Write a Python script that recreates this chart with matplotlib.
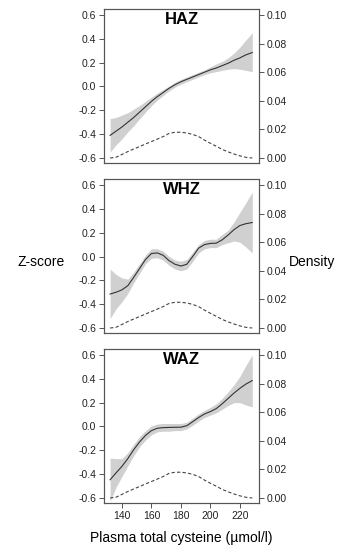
import matplotlib
matplotlib.use('Agg')
import matplotlib.pyplot as plt
import numpy as np

plt.rcParams['font.family'] = ['Liberation Sans', 'DejaVu Sans']
plt.rcParams['axes.unicode_minus'] = False

# plasma total cysteine (umol/l)
cysteine = [132, 136, 140, 144, 148, 152, 156, 160, 164, 168, 172, 176, 180,
            184, 188, 192, 196, 200, 204, 208, 212, 216, 220, 224, 228.4]

# HAZ fit and confidence band
haz = [-0.41, -0.375, -0.34, -0.30, -0.26, -0.215, -0.17, -0.125, -0.085, -0.05, -0.015, 0.015, 0.04,
       0.06, 0.08, 0.10, 0.12, 0.14, 0.155, 0.175, 0.195, 0.22, 0.24, 0.265, 0.285]
haz_hi = [-0.27, -0.26, -0.24, -0.22, -0.19, -0.16, -0.125, -0.09, -0.055, -0.025, 0.005, 0.035, 0.06,
          0.08, 0.10, 0.12, 0.14, 0.165, 0.19, 0.21, 0.24, 0.28, 0.33, 0.39, 0.45]
haz_lo = [-0.55, -0.49, -0.44, -0.38, -0.33, -0.27, -0.215, -0.16, -0.115, -0.075, -0.037, -0.005, 0.02,
          0.04, 0.06, 0.08, 0.10, 0.115, 0.125, 0.135, 0.145, 0.15, 0.145, 0.135, 0.125]

# WHZ fit and confidence band
whz = [-0.315, -0.30, -0.28, -0.245, -0.175, -0.10, -0.025, 0.025, 0.03, 0.01, -0.035, -0.065, -0.08,
       -0.065, 0.0, 0.07, 0.10, 0.11, 0.112, 0.14, 0.18, 0.225, 0.26, 0.275, 0.285]
whz_hi = [-0.105, -0.15, -0.18, -0.19, -0.13, -0.06, 0.01, 0.065, 0.065, 0.045, 0.0, -0.03, -0.04,
          -0.025, 0.035, 0.10, 0.135, 0.145, 0.145, 0.185, 0.22, 0.29, 0.37, 0.45, 0.54]
whz_lo = [-0.52, -0.44, -0.38, -0.31, -0.22, -0.14, -0.06, -0.015, -0.01, -0.03, -0.075, -0.105, -0.12,
          -0.105, -0.04, 0.03, 0.065, 0.075, 0.075, 0.10, 0.115, 0.13, 0.12, 0.08, 0.03]

# WAZ fit and confidence band
waz = [-0.447, -0.39, -0.335, -0.27, -0.195, -0.13, -0.075, -0.035, -0.015, -0.01, -0.008, -0.007, -0.006,
       0.006, 0.04, 0.075, 0.105, 0.125, 0.15, 0.19, 0.235, 0.28, 0.32, 0.355, 0.385]
waz_hi = [-0.265, -0.27, -0.27, -0.22, -0.15, -0.085, -0.035, 0.005, 0.02, 0.025, 0.025, 0.025, 0.025,
          0.035, 0.07, 0.105, 0.135, 0.16, 0.19, 0.235, 0.29, 0.35, 0.42, 0.51, 0.60]
waz_lo = [-0.63, -0.51, -0.42, -0.33, -0.245, -0.17, -0.115, -0.07, -0.045, -0.04, -0.04, -0.035, -0.035,
          -0.02, 0.01, 0.045, 0.075, 0.095, 0.115, 0.145, 0.175, 0.20, 0.20, 0.18, 0.165]

# density of cysteine values (same for all panels)
density = [0.0, 0.0005, 0.0025, 0.0045, 0.0063, 0.008, 0.0098, 0.0115, 0.0132, 0.015, 0.0172, 0.018, 0.018,
           0.0175, 0.0165, 0.015, 0.0125, 0.0103, 0.0082, 0.006, 0.0043, 0.0028, 0.0015, 0.0005, 0.0]

panels = [('HAZ', haz, haz_lo, haz_hi), ('WHZ', whz, whz_lo, whz_hi), ('WAZ', waz, waz_lo, waz_hi)]
z_ticks = [-0.6, -0.4, -0.2, 0.0, 0.2, 0.4, 0.6]
d_ticks = [0.0, 0.02, 0.04, 0.06, 0.08, 0.10]
x_ticks = [140, 160, 180, 200, 220]

z_lim = (-0.642, 0.65)
# density axis aligned so 0 -> -0.6 and 0.1 -> 0.6
d_lim = ((z_lim[0] + 0.6) / 12, (z_lim[1] + 0.6) / 12)

fig = plt.figure(figsize=(3.48, 5.5), dpi=100)
bottoms = [0.7036, 0.3945, 0.0855]
edge = '#555555'

for (name, fit, lo, hi), b in zip(panels, bottoms):
  ax = fig.add_axes([0.299, b, 0.445, 0.28])
  ax.fill_between(cysteine, lo, hi, color='#d0d0d0', lw=0)
  ax.plot(cysteine, fit, color='#333333', lw=0.8)
  ax.set_xlim(127.9, 232.9)
  ax.set_ylim(*z_lim)
  ax.set_yticks(z_ticks)
  ax.set_yticklabels([f'{t:.1f}' for t in z_ticks])
  ax.text(0.5, 0.93, name, transform=ax.transAxes, ha='center', va='center',
          fontsize=12, fontweight='bold')

  ax2 = ax.twinx()
  ax2.plot(cysteine, density, color='#444444', lw=0.8, ls=(0, (3, 2)))
  ax2.set_ylim(*d_lim)
  ax2.set_yticks(d_ticks)
  ax2.set_yticklabels([f'{t:.2f}' for t in d_ticks])

  for a in (ax, ax2):
    for s in a.spines.values():
      s.set_color(edge)
      s.set_linewidth(0.8)
    a.tick_params(labelsize=7.5, length=3.5, width=0.7, color=edge, colors='#222222', pad=2)

  if name == 'WAZ':
    ax.set_xticks(x_ticks)
    ax.tick_params(axis='x', labelsize=7.5)
  else:
    ax.set_xticks([])

fig.text(0.118, 1 - 262 / 550, 'Z-score', ha='center', va='center', fontsize=10)
fig.text(0.897, 1 - 262 / 550, 'Density', ha='center', va='center', fontsize=10)
fig.text(0.52, 1 - 538 / 550, 'Plasma total cysteine (\u00b5mol/l)', ha='center', va='center', fontsize=10)

fig.savefig('out.png', dpi=100)
